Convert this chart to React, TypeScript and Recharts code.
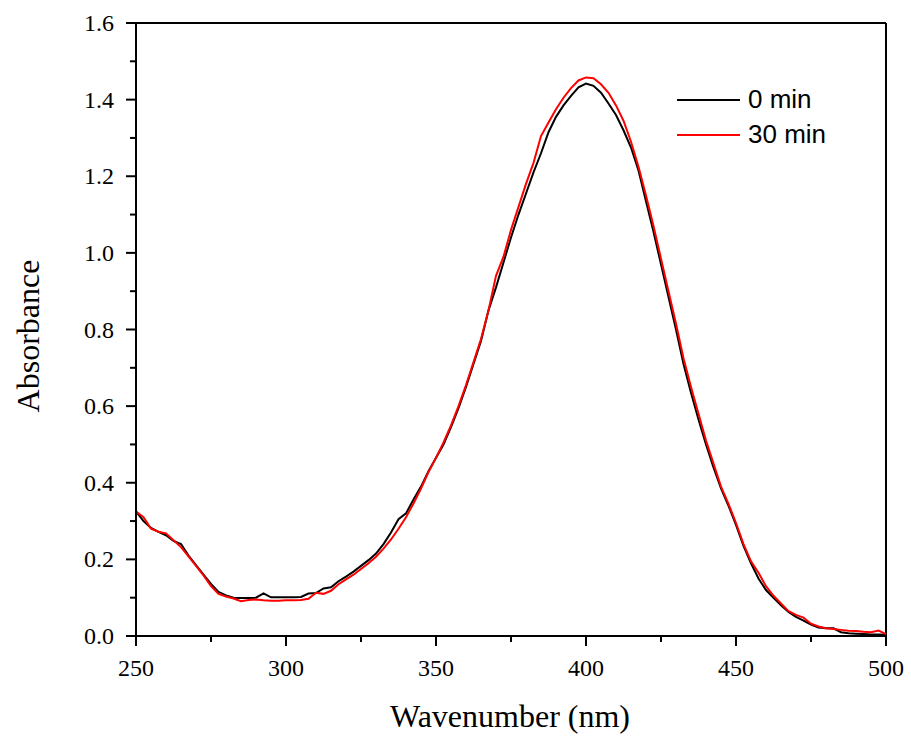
import React from 'react';
import { LineChart, Line, XAxis, YAxis, ReferenceLine } from 'recharts';

const wavelengths = [
  250, 252.5, 255, 257.5, 260, 262.5, 265, 267.5, 270, 272.5, 275, 277.5, 280, 282.5, 285, 287.5, 290, 292.5, 295, 297.5,
  300, 302.5, 305, 307.5, 310, 312.5, 315, 317.5, 320, 322.5, 325, 327.5, 330, 332.5, 335, 337.5, 340, 342.5, 345, 347.5,
  350, 352.5, 355, 357.5, 360, 362.5, 365, 367.5, 370, 372.5, 375, 377.5, 380, 382.5, 385, 387.5, 390, 392.5, 395, 397.5,
  400, 402.5, 405, 407.5, 410, 412.5, 415, 417.5, 420, 422.5, 425, 427.5, 430, 432.5, 435, 437.5, 440, 442.5, 445, 447.5,
  450, 452.5, 455, 457.5, 460, 462.5, 465, 467.5, 470, 472.5, 475, 477.5, 480, 482.5, 485, 487.5, 490, 492.5, 495, 497.5,
  500,
];

const abs0min = [
  0.325, 0.3, 0.282, 0.272, 0.263, 0.248, 0.24, 0.21, 0.185, 0.16, 0.136, 0.115, 0.106, 0.1, 0.099, 0.099, 0.1, 0.111, 0.101, 0.101,
  0.101, 0.101, 0.102, 0.111, 0.112, 0.124, 0.127, 0.143, 0.155, 0.168, 0.183, 0.198, 0.215, 0.24, 0.27, 0.305, 0.32, 0.356, 0.39, 0.43,
  0.465, 0.5, 0.545, 0.595, 0.65, 0.71, 0.77, 0.85, 0.91, 0.975, 1.04, 1.1, 1.155, 1.21, 1.26, 1.315, 1.355, 1.385, 1.41, 1.432,
  1.442, 1.436, 1.418, 1.39, 1.36, 1.32, 1.275, 1.215, 1.135, 1.055, 0.97, 0.885, 0.8, 0.71, 0.635, 0.565, 0.5, 0.44, 0.385, 0.34,
  0.29, 0.235, 0.19, 0.15, 0.12, 0.1, 0.08, 0.063, 0.05, 0.04, 0.03, 0.022, 0.02, 0.02, 0.01, 0.007, 0.006, 0.005, 0.004, 0.004,
  0.003,
];

const abs30min = [
  0.325, 0.31, 0.28, 0.272, 0.268, 0.25, 0.232, 0.208, 0.183, 0.158, 0.13, 0.11, 0.103, 0.098, 0.091, 0.094, 0.095, 0.093, 0.092, 0.092,
  0.093, 0.093, 0.094, 0.097, 0.113, 0.11, 0.118, 0.135, 0.148, 0.16, 0.175, 0.19, 0.207, 0.228, 0.252, 0.28, 0.31, 0.346, 0.385, 0.428,
  0.465, 0.505, 0.55, 0.6, 0.655, 0.715, 0.775, 0.85, 0.94, 0.99, 1.06, 1.12, 1.18, 1.235, 1.305, 1.34, 1.375, 1.405, 1.43, 1.45,
  1.458, 1.456, 1.44, 1.418, 1.385, 1.345, 1.29, 1.225, 1.15, 1.07, 0.985, 0.9, 0.815, 0.725, 0.65, 0.58, 0.51, 0.45, 0.39, 0.345,
  0.295, 0.24, 0.195, 0.165, 0.13, 0.105, 0.085, 0.065, 0.055, 0.048, 0.032, 0.025, 0.02, 0.018, 0.016, 0.014, 0.013, 0.011, 0.01, 0.014,
  0.005,
];

const xTicks = [250, 275, 300, 325, 350, 375, 400, 425, 450, 475, 500];
const yTicks = [0, 0.1, 0.2, 0.3, 0.4, 0.5, 0.6, 0.7, 0.8, 0.9, 1.0, 1.1, 1.2, 1.3, 1.4, 1.5, 1.6];

const seriesNames = ['0 min', '30 min'];
const seriesColors = ['#000000', '#ff0000'];

const serif = '"Liberation Serif", "Times New Roman", serif';
const sans = '"Liberation Sans", Arial, sans-serif';

const data = wavelengths.map((nm, i) => ({ nm, a0: abs0min[i], a30: abs30min[i] }));

const XTick = (props: any) => {
  const { x, y, payload } = props;
  const major = payload.value % 50 === 0;
  return (
    <g>
      <line x1={x} y1={y} x2={x} y2={y + (major ? 10 : 6)} stroke="#000" strokeWidth={2} />
      {major && (
        <text x={x} y={y + 32} textAnchor="middle" dominantBaseline="central" fontFamily={serif} fontSize={24} fill="#000">
          {payload.value}
        </text>
      )}
    </g>
  );
};

const YTick = (props: any) => {
  const { x, y, payload, index } = props;
  const major = index % 2 === 0;
  return (
    <g>
      <line x1={x} y1={y} x2={x - (major ? 10 : 6)} y2={y} stroke="#000" strokeWidth={2} />
      {major && (
        <text x={x - 22} y={y} textAnchor="end" dominantBaseline="central" fontFamily={serif} fontSize={24} fill="#000">
          {payload.value.toFixed(1)}
        </text>
      )}
    </g>
  );
};

export default function App() {
  return (
    <div style={{ position: 'absolute', left: 0, top: 0, width: 911, height: 738, background: '#fff' }}>
      <LineChart width={911} height={738} data={data} margin={{ top: 23, right: 25, bottom: 72, left: 76 }}>
        <XAxis
          dataKey="nm"
          type="number"
          domain={[250, 500]}
          ticks={xTicks}
          interval={0}
          tick={<XTick />}
          tickLine={false}
          tickSize={0}
          tickMargin={0}
          height={30}
          axisLine={{ stroke: '#000', strokeWidth: 2 }}
          allowDataOverflow
        />
        <YAxis
          type="number"
          domain={[0, 1.6]}
          ticks={yTicks}
          interval={0}
          tick={<YTick />}
          tickLine={false}
          tickSize={0}
          tickMargin={0}
          width={60}
          axisLine={{ stroke: '#000', strokeWidth: 2 }}
          allowDataOverflow
        />
        <ReferenceLine y={1.6} stroke="#000" strokeWidth={2} />
        <ReferenceLine x={500} stroke="#000" strokeWidth={2} />
        <Line dataKey="a0" name={seriesNames[0]} stroke={seriesColors[0]} strokeWidth={2} dot={false} type="linear" isAnimationActive={false} />
        <Line dataKey="a30" name={seriesNames[1]} stroke={seriesColors[1]} strokeWidth={2} dot={false} type="linear" isAnimationActive={false} />
      </LineChart>

      {/* legend */}
      <div style={{ position: 'absolute', left: 677, top: 84, display: 'flex', flexDirection: 'column', gap: 4 }}>
        {seriesNames.map((name, i) => (
          <div key={name} style={{ display: 'flex', alignItems: 'center', height: 31 }}>
            <div style={{ width: 63, height: 2, background: seriesColors[i], marginRight: 8 }} />
            <span style={{ fontFamily: sans, fontSize: 26, color: '#000' }}>{name}</span>
          </div>
        ))}
      </div>

      <div style={{ position: 'absolute', left: 0, top: 698, width: 1020, textAlign: 'center', fontFamily: serif, fontSize: 32, color: '#000' }}>
        Wavenumber (nm)
      </div>
      <div
        style={{
          position: 'absolute',
          left: 28,
          top: 336,
          transform: 'translate(-50%, -50%) rotate(-90deg)',
          fontFamily: serif,
          fontSize: 32,
          color: '#000',
          whiteSpace: 'nowrap',
        }}
      >
        Absorbance
      </div>
    </div>
  );
}
